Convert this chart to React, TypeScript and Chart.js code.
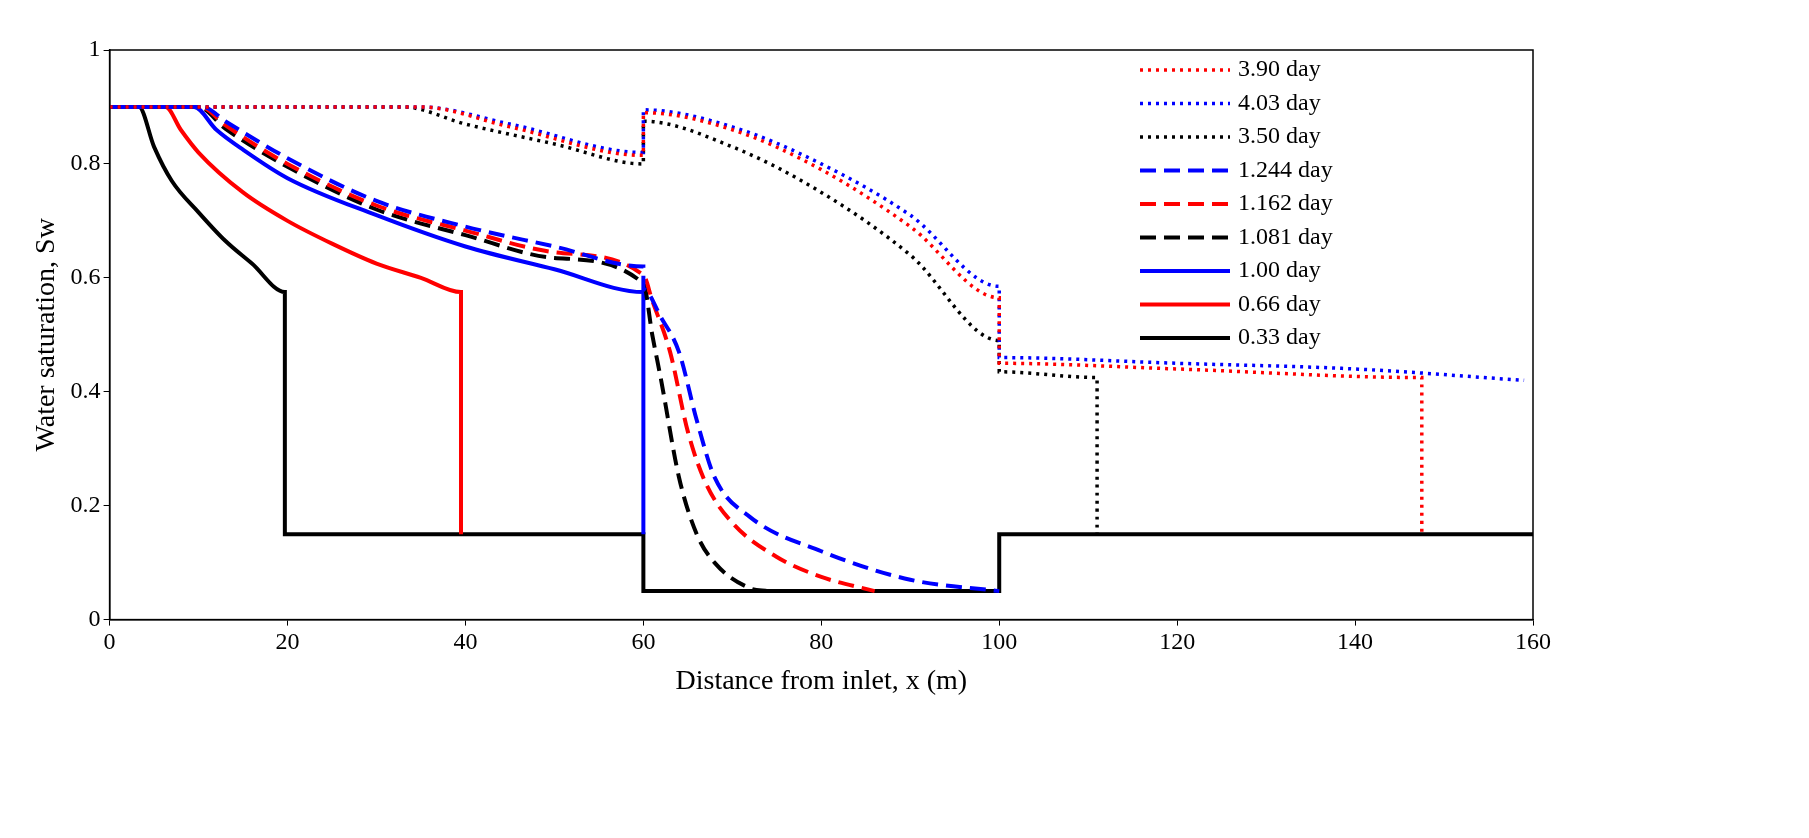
import React, { useEffect, useRef } from "react";
import { Chart, registerables } from "chart.js";
Chart.register(...registerables);

type P = { x: number; y: number };
const pts = (a: number[][]): P[] => a.map(([x, y]) => ({ x, y }));

const labels = ["3.90 day", "4.03 day", "3.50 day", "1.244 day", "1.162 day", "1.081 day", "1.00 day", "0.66 day", "0.33 day"];
const colors = ["#ff0000", "#0000ff", "#000000", "#0000ff", "#ff0000", "#000000", "#0000ff", "#ff0000", "#000000"];
const styles = ["dot", "dot", "dot", "dash", "dash", "dash", "solid", "solid", "solid"];

const d390 = [[0,0.9],[35,0.9],[45,0.865],[60,0.815],[60,0.89],[70,0.86],[80,0.79],[90,0.69],[100,0.565],[100,0.45],[120,0.44],[147.5,0.425],[147.5,0.15]];
const d403 = [[0,0.9],[35,0.9],[45,0.87],[60,0.82],[60,0.895],[70,0.865],[80,0.8],[90,0.71],[100,0.585],[100,0.46],[120,0.45],[140,0.44],[159,0.42]];
const d350 = [[0,0.9],[33,0.9],[40,0.87],[50,0.835],[60,0.8],[60,0.875],[70,0.83],[80,0.75],[90,0.64],[100,0.49],[100,0.435],[111,0.425],[111,0.15]];
const d1244 = [[0,0.9],[10.5,0.9],[13,0.875],[20,0.81],[30,0.735],[40,0.69],[50,0.655],[60,0.62],[60,0.58],[62,0.53],[64,0.47],[66,0.35],[68,0.25],[72,0.18],[80,0.12],[90,0.07],[100,0.05]];
const d1162 = [[0,0.9],[10.2,0.9],[13,0.868],[20,0.8],[30,0.727],[40,0.683],[50,0.645],[60,0.605],[61,0.56],[63,0.47],[65,0.33],[67,0.24],[70,0.17],[75,0.11],[80,0.075],[86,0.05]];
const d1081 = [[0,0.9],[10,0.9],[13,0.862],[20,0.795],[30,0.72],[40,0.675],[50,0.635],[60,0.59],[61,0.5],[62,0.42],[64,0.25],[66,0.15],[68,0.1],[72,0.055],[74,0.05]];
const d100 = [[0,0.9],[9.5,0.9],[12,0.86],[15,0.825],[20,0.775],[30,0.71],[40,0.655],[50,0.615],[60,0.575],[60,0.15]];
const d066 = [[0,0.9],[6.3,0.9],[8,0.86],[10,0.82],[15,0.75],[20,0.7],[25,0.66],[30,0.625],[35,0.6],[39.5,0.575],[39.5,0.15]];
const d033 = [[0,0.9],[3.3,0.9],[5,0.83],[7,0.77],[10,0.715],[13,0.665],[16,0.625],[19.7,0.575],[19.7,0.15],[60,0.15],[60,0.05],[100,0.05],[100,0.15],[160,0.15]];
const series = [d390, d403, d350, d1244, d1162, d1081, d100, d066, d033];

const dashOf = (s: string) => (s === "dot" ? [3, 5] : s === "dash" ? [16, 8] : []);
const widthOf = (s: string) => (s === "dot" ? 3.5 : 4);
const FONT = "'Liberation Serif', 'Times New Roman', serif";

export default function App() {
  const ref = useRef<HTMLCanvasElement>(null);
  useEffect(() => {
    const legendPlugin = {
      id: "inlegend",
      afterDraw(chart: any) {
        const { ctx, chartArea } = chart;
        ctx.save();
        ctx.lineWidth = 1.5;
        ctx.strokeStyle = "#000";
        ctx.strokeRect(chartArea.left, chartArea.top, chartArea.right - chartArea.left, chartArea.bottom - chartArea.top);
        ctx.font = `24px ${FONT}`;
        ctx.textBaseline = "middle";
        labels.forEach((l, i) => {
          const y = 62 + i * 33.5;
          ctx.beginPath();
          ctx.setLineDash(dashOf(styles[i]));
          ctx.lineWidth = widthOf(styles[i]);
          ctx.strokeStyle = colors[i];
          ctx.moveTo(1132, y);
          ctx.lineTo(1222, y);
          ctx.stroke();
          ctx.setLineDash([]);
          ctx.fillStyle = "#000";
          ctx.fillText(l, 1230, y);
        });
        ctx.restore();
      },
    };
    const chart = new Chart(ref.current!, {
      type: "line",
      data: {
        datasets: series.map((s, i) => ({
          label: labels[i],
          data: pts(s),
          borderColor: colors[i],
          borderDash: dashOf(styles[i]),
          borderWidth: widthOf(styles[i]),
          pointRadius: 0,
          tension: 0.3,
          cubicInterpolationMode: "monotone" as const,
          fill: false,
        })),
      },
      options: {
        animation: false,
        responsive: false,
        layout: { padding: { top: 42, right: 268, left: 18, bottom: 128 } },
        plugins: { legend: { display: false }, tooltip: { enabled: false } },
        scales: {
          x: {
            type: "linear", min: 0, max: 160,
            ticks: { stepSize: 20, color: "#000", font: { family: FONT, size: 24 } },
            grid: { drawOnChartArea: false, color: "#000", tickLength: 6 },
            border: { color: "#000", width: 1.5 },
            title: { display: true, text: "Distance from inlet, x (m)", color: "#000", font: { family: FONT, size: 28 } },
          },
          y: {
            min: 0, max: 1,
            ticks: { stepSize: 0.2, color: "#000", font: { family: FONT, size: 24 }, callback: (v: any) => String(Number(v.toFixed(1))) },
            grid: { drawOnChartArea: false, color: "#000", tickLength: 6 },
            border: { color: "#000", width: 1.5 },
            title: { display: true, text: "Water saturation, Sw", color: "#000", font: { family: FONT, size: 28 } },
          },
        },
      } as any,
      plugins: [legendPlugin],
    });
    return () => chart.destroy();
  }, []);
  return <canvas ref={ref} width={1793} height={822} style={{ display: "block" }} />;
}
